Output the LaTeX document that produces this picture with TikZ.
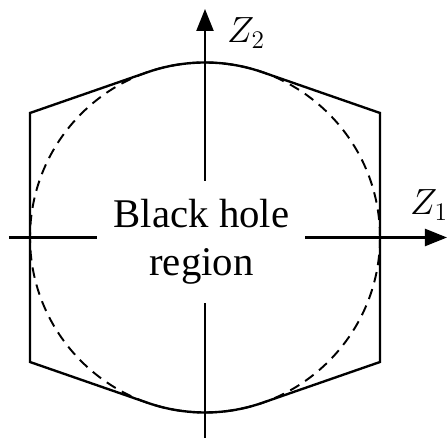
\documentclass[tikz,border=0pt]{standalone}
\usepackage{fontspec}
\usepackage{tikz}
\usetikzlibrary{arrows.meta}
\newfontfamily\regionfont{Liberation Serif}

\begin{document}
\begin{tikzpicture}[line width=1.35pt,
  axisline/.style={-{Triangle[length=0.44cm,width=0.34cm]}},
  axislabel/.style={font=\fontsize{22.5}{27}\selectfont, anchor=base west, inner sep=0pt}]

%% ─── Frame ──────────────────────────────────────────────────
\useasboundingbox (-4.1,-4.01) rectangle (4.84,4.75);

%% ─── Region boundary (hexagon with arc caps) ────────────────
\draw (-3.5,-2.49) -- (-3.5,2.49) -- (109.1:3.5) arc[start angle=109.1, end angle=70.9, radius=3.5]
  -- (3.5,2.49) -- (3.5,-2.49) -- (-70.9:3.5) arc[start angle=-70.9, end angle=-109.1, radius=3.5]
  -- cycle;

%% ─── Dashed circle ──────────────────────────────────────────
\draw[line width=1.1pt, dash pattern=on 6pt off 4pt] (0,0) circle[radius=3.5];

%% ─── Axes ───────────────────────────────────────────────────
\coordinate (zoneW) at (-3.92,0);
\coordinate (zoneE) at (4.84,0);
\coordinate (zoneS) at (0,-4.01);
\coordinate (zoneN) at (0,4.57);
\draw[axisline] (zoneW) -- (zoneE);
\draw[axisline] (zoneS) -- (zoneN);
\node[axislabel] (labelZone) at (4.08,0.45) {$Z_1$};
\node[axislabel] (labelZtwo) at (0.42,3.89) {$Z_2$};

%% ─── Centre label ───────────────────────────────────────────
\node[fill=white, align=center, minimum width=4.16cm, minimum height=2.44cm,
  font=\regionfont\fontsize{23.2}{27.3}\selectfont] (blackhole) at (-0.07,-0.09)
  {Black hole\\region};

\end{tikzpicture}
\end{document}
